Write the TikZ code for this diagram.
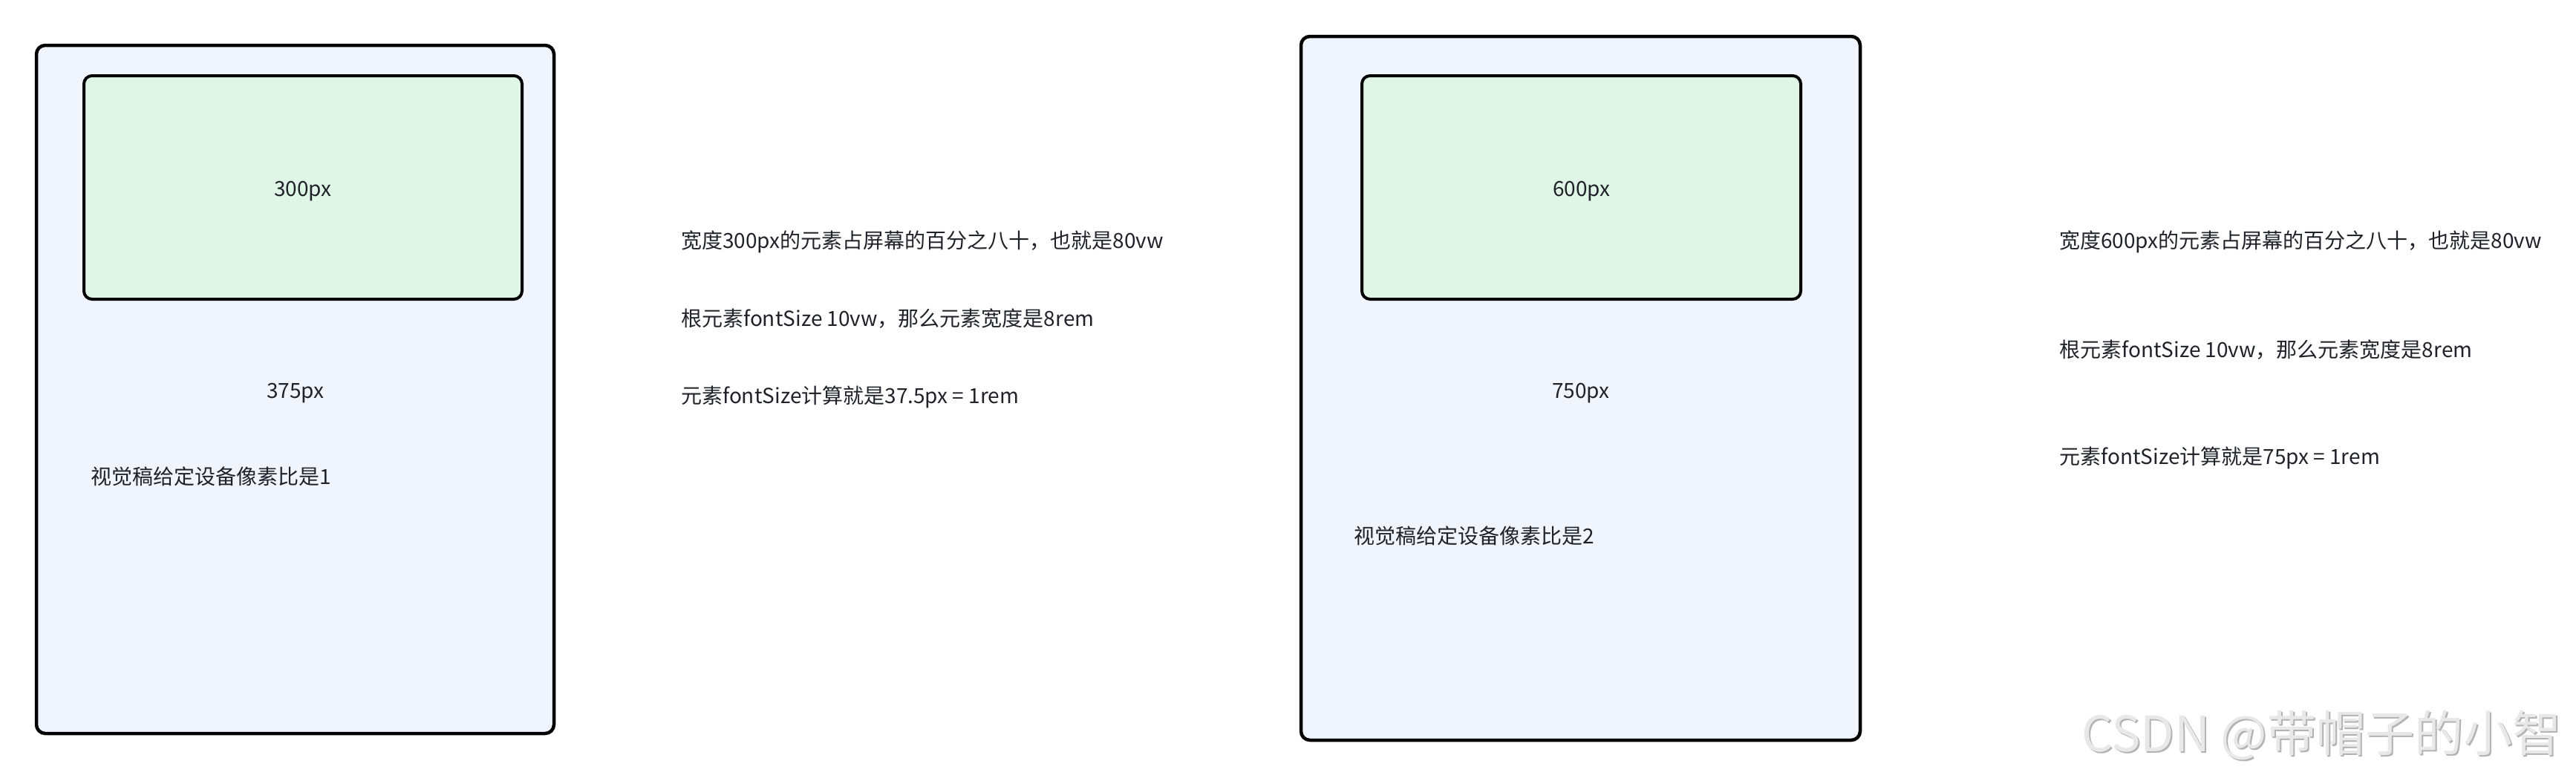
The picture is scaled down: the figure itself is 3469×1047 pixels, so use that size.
\documentclass[tikz,border=0pt]{standalone}
\usepackage{fontspec}
\setmainfont{Noto Sans CJK SC}
\begin{document}
\begin{tikzpicture}[x=1pt,y=-1pt,
  outerbox/.style={draw=black,line width=4.5pt,rounded corners=12pt,fill=outerfill},
  innerbox/.style={draw=black,line width=4pt,rounded corners=11pt,fill=innerfill},
  lbl/.style={text=txt,font=\fontsize{28}{33}\selectfont,inner sep=0pt},
  wm/.style={font=\fontsize{66}{76}\selectfont,inner sep=0pt,anchor=west}]
\definecolor{outerfill}{HTML}{EFF4FD}
\definecolor{innerfill}{HTML}{DFF5E5}
\definecolor{txt}{HTML}{1F2329}
\useasboundingbox (0,0) rectangle (3469,1047);
% left phone
\draw[outerbox] (49,61) rectangle (746,988);
\draw[innerbox] (113,102) rectangle (703,403);
\node[lbl] (w1) at (408,258) {300px};
\node[lbl] (s1) at (398,530) {375px};
\node[lbl,anchor=west] (d1) at (122,642) {视觉稿给定设备像素比是1};
\node[lbl,anchor=west] (a1) at (917,326) {宽度300px的元素占屏幕的百分之八十，也就是80vw};
\node[lbl,anchor=west] (b1) at (917,429) {根元素fontSize 10vw，那么元素宽度是8rem};
\node[lbl,anchor=west] (c1) at (917,535) {元素fontSize计算就是37.5px = 1rem};
% right phone
\draw[outerbox] (1752,49) rectangle (2505,997);
\draw[innerbox] (1834,102) rectangle (2425,403);
\node[lbl] (w2) at (2130,258) {600px};
\node[lbl] (s2) at (2129,530) {750px};
\node[lbl,anchor=west] (d2) at (1823,722) {视觉稿给定设备像素比是2};
\node[lbl,anchor=west] (a2) at (2773,326) {宽度600px的元素占屏幕的百分之八十，也就是80vw};
\node[lbl,anchor=west] (b2) at (2773,471) {根元素fontSize 10vw，那么元素宽度是8rem};
\node[lbl,anchor=west] (c2) at (2773,617) {元素fontSize计算就是75px = 1rem};
% watermark
\node[wm,text=black!30] (wms) at (2805,992) {CSDN @带帽子的小智};
\node[wm,text=black!9] (wmt) at (2803,990) {CSDN @带帽子的小智};
\end{tikzpicture}
\end{document}
